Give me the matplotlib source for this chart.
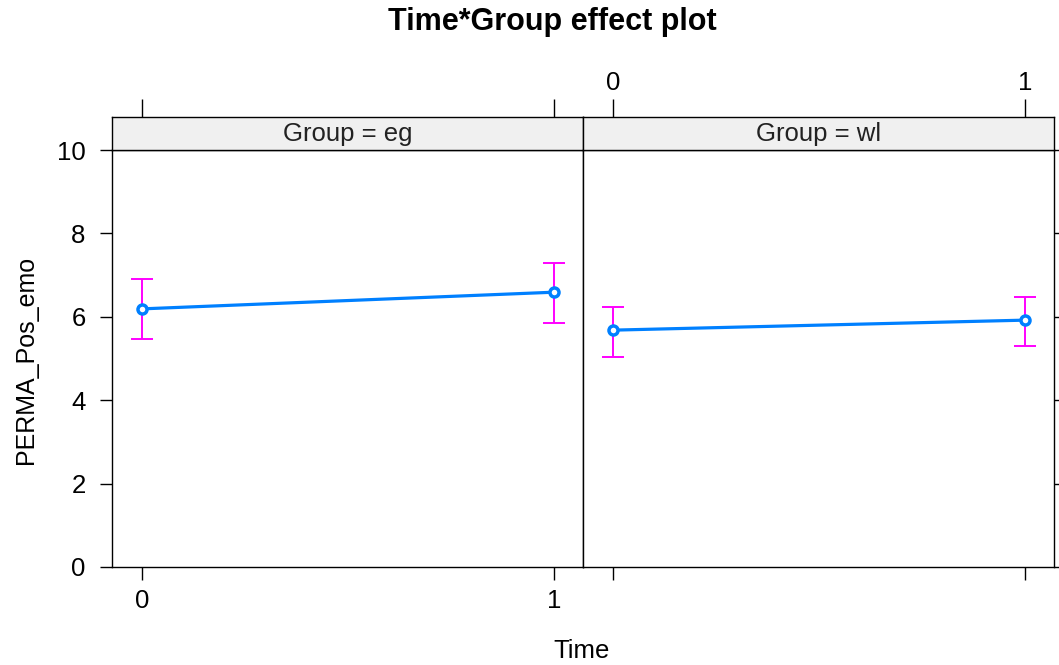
import numpy as np
import matplotlib
matplotlib.use("Agg")
import matplotlib.pyplot as plt

plt.rcParams['font.family'] = ['Liberation Sans', 'DejaVu Sans']

# data
groups = ["eg", "wl"]
time = [0, 1]
fit_eg = [6.19, 6.59]
lower_eg = [5.47, 5.85]
upper_eg = [6.91, 7.29]
fit_wl = [5.68, 5.92]
lower_wl = [5.04, 5.30]
upper_wl = [6.24, 6.47]

fits = {"eg": fit_eg, "wl": fit_wl}
lowers = {"eg": lower_eg, "wl": lower_wl}
uppers = {"eg": upper_eg, "wl": upper_wl}

W, H = 1059, 665
fig = plt.figure(figsize=(W / 100, H / 100), dpi=100)

line_col = "#0080ff"
ci_col = "#ff00ff"
fs = 18.5

panel_left = [112, 583]
panel_w = 471
y_bot, y_top, strip_top = 567, 150, 117

xlim = (-30 / 412, 1 + 29 / 412)

for i, g in enumerate(groups):
    l = panel_left[i] / W
    ax = fig.add_axes([l, 1 - y_bot / H, panel_w / W, (y_bot - y_top) / H])
    st = fig.add_axes([l, 1 - y_top / H, panel_w / W, (y_top - strip_top) / H], sharex=ax)

    ax.plot(time, fits[g], color=line_col, lw=2.3, solid_capstyle="butt", zorder=2)
    ax.plot(time, fits[g], "o", ms=6.5, mfc="white", mec=line_col, mew=2.5, zorder=3)
    f = np.array(fits[g])
    err = [f - np.array(lowers[g]), np.array(uppers[g]) - f]
    ax.errorbar(time, f, yerr=err, fmt="none", ecolor=ci_col, elinewidth=1.4,
                capsize=8, capthick=1.4, zorder=1)

    ax.set_xlim(*xlim)
    ax.set_ylim(0, 10.0)
    ax.set_xticks(time)
    ax.set_yticks([0, 2, 4, 6, 8, 10])
    ax.tick_params(direction="out", length=9, width=1, labelsize=fs, pad=7)
    for sp in ax.spines.values():
        sp.set_linewidth(1)

    if i == 0:
        ax.set_xticklabels(["0", "1"])
        ax.tick_params(axis="y", left=True, right=False, labelleft=True, pad=10)
    else:
        ax.tick_params(axis="y", left=False, right=True, labelleft=False, labelright=False)
        ax.tick_params(axis="x", labelbottom=False)

    st.set_facecolor("#f0f0f0")
    st.set_yticks([])
    st.tick_params(axis="x", bottom=False, labelbottom=False, top=True,
                   labeltop=(i == 1), direction="out", length=13, width=1,
                   labelsize=fs, pad=3)
    for sp in st.spines.values():
        sp.set_linewidth(1)
    st.text(0.5, 0.5, f"Group = {g}", transform=st.transAxes, ha="center",
            va="center", fontsize=fs, color="#222222")

fig.text(552 / W, 1 - 22 / H, "Time*Group effect plot", ha="center", va="center",
         fontsize=22, fontweight="bold")
fig.text(26 / W, 1 - 360 / H, "PERMA_Pos_emo", rotation=90, ha="center",
         va="center", fontsize=18)
fig.text(582 / W, 1 - 651 / H, "Time", ha="center", va="center", fontsize=fs)

fig.savefig("out.png", dpi=100)
